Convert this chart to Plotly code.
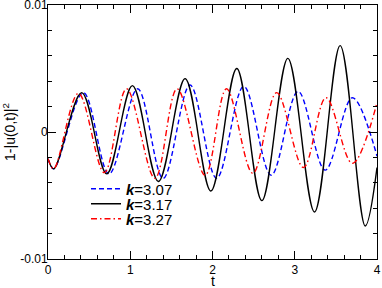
import plotly.graph_objects as go

# ---- data (extrema of each curve) ----
t_k307 = [0, 0.07, 0.43, 0.742, 1.09, 1.40, 1.727, 2.05, 2.38, 2.713, 3.04, 3.37, 3.70, 4.0]
v_k307 = [-0.0021, -0.0029, 0.0031, -0.0033, 0.0034, -0.00365, 0.0037, -0.00365, 0.0036, -0.0034,
          0.0032, -0.0030, 0.0027, -0.0019]

t_k317 = [0, 0.07, 0.41, 0.714, 1.026, 1.342, 1.667, 1.98, 2.295, 2.60, 2.916, 3.24, 3.552, 3.857, 4.0]
v_k317 = [-0.0021, -0.0029, 0.0031, -0.0033, 0.00365, -0.0039, 0.0042, -0.00465, 0.0050, -0.0054,
          0.0058, -0.0063, 0.0068, -0.0074, -0.0028]

t_k327 = [0, 0.07, 0.37, 0.685, 0.955, 1.30, 1.57, 1.91, 2.17, 2.49, 2.78, 3.106, 3.38, 3.70, 4.0]
v_k327 = [-0.0021, -0.0029, 0.00305, -0.0032, 0.0034, -0.00365, 0.0034, -0.0034, 0.0034, -0.00325,
          0.0031, -0.0028, 0.0027, -0.00247, 0.0023]

labels = ["<b><i>k</i></b>=3.07", "<b><i>k</i></b>=3.17", "<b><i>k</i></b>=3.27"]
x_ticks = [0, 1, 2, 3, 4]
y_ticks = [-0.01, 0, 0.01]
y_ticktext = ["-0.01", "0", "0.01"]
x_title = "t"
y_title = "1-|u(0,t)|<sup>2</sup>"

FONT = "Liberation Sans, Arial, Helvetica, sans-serif"

fig = go.Figure()
series = [
    (t_k307, v_k307, labels[0], "#0000ff", "5px,3px", "legend"),
    (t_k317, v_k317, labels[1], "#000000", "solid", "legend2"),
    (t_k327, v_k327, labels[2], "#ff0000", "6px,3px,1.5px,3px", "legend3"),
]
for t, v, name, color, dash, leg in series:
    fig.add_trace(go.Scatter(
        x=t, y=v, mode="lines", name=name,
        line=dict(color=color, width=1.4, dash=dash, shape="spline", smoothing=1.0),
        legend=leg, showlegend=True,
    ))

axis_common = dict(
    showline=True, linecolor="black", linewidth=1, mirror="ticks",
    ticks="inside", ticklen=8, tickcolor="black", tickwidth=1,
    showgrid=False, zeroline=False, automargin=False,
    ticklabeloverflow="allow",
    tickfont=dict(family=FONT, size=12, color="black"),
)

fig.update_xaxes(
    range=[0, 4], tickvals=x_ticks,
    minor=dict(ticks="inside", dtick=0.2, ticklen=4, tickcolor="black", showgrid=False),
    **axis_common,
)
fig.update_yaxes(
    range=[-0.01, 0.01], tickvals=y_ticks, ticktext=y_ticktext, ticklabelstandoff=-3,
    minor=dict(ticks="inside", dtick=0.002, ticklen=4, tickcolor="black", showgrid=False),
    title=dict(text=y_title, font=dict(family=FONT, size=14, color="black"), standoff=2),
    **axis_common,
)

fig.add_annotation(
    text=x_title, xref="paper", yref="paper", x=0.5, y=(259 - 281) / 254,
    xanchor="center", yanchor="middle", showarrow=False,
    font=dict(family=FONT, size=14, color="black"),
)

leg_common = dict(
    xanchor="left", yanchor="middle", bgcolor="rgba(0,0,0,0)", borderwidth=0,
    font=dict(family=FONT, size=15, color="black"),
)
lx = (86 - 48) / 329
fig.update_layout(
    width=382, height=288,
    margin=dict(l=48, r=5, t=5, b=29, autoexpand=False),
    paper_bgcolor="white", plot_bgcolor="white",
    legend=dict(x=lx, y=(259 - 189) / 254, **leg_common),
    legend2=dict(x=lx, y=(259 - 204) / 254, **leg_common),
    legend3=dict(x=lx, y=(259 - 219) / 254, **leg_common),
    font=dict(family=FONT, color="black"),
)

fig.write_html("out.html", config={"displayModeBar": False},
               post_script="document.body.style.margin='0';")
